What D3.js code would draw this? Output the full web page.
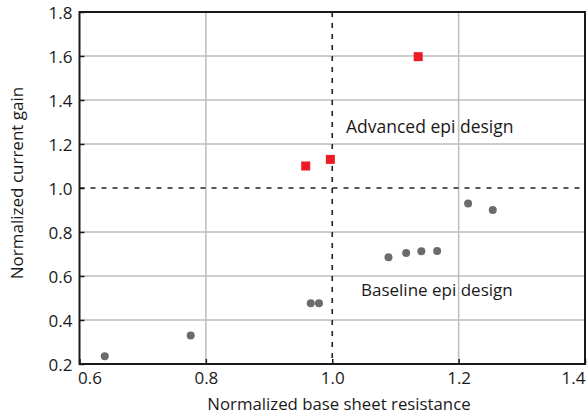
<!DOCTYPE html>
<html>
<head>
<meta charset="utf-8">
<script src="https://cdn.jsdelivr.net/npm/d3@7"></script>
<style>
  body { margin: 0; background: #fff; }
  text { font-family: "Open Sans", Lato, sans-serif; fill: #1a1a1a; }
</style>
</head>
<body>
<div id="chart"></div>
<script>
// ---- data
var baselineX = [0.64, 0.776, 0.966, 0.979, 1.089, 1.117, 1.141, 1.166, 1.215, 1.254];
var baselineY = [0.235, 0.33, 0.476, 0.476, 0.685, 0.705, 0.712, 0.714, 0.929, 0.90];
var advancedX = [0.958, 0.997, 1.136];
var advancedY = [1.10, 1.13, 1.597];
var xTicks = [0.6, 0.8, 1.0, 1.2, 1.4];
var yTicks = [0.2, 0.4, 0.6, 0.8, 1.0, 1.2, 1.4, 1.6, 1.8];

var svgWidth = 587, svgHeight = 416;
// plot box edges (don't call one "top", window.top is taken)
var plotLeft = 79.5, plotRight = 585, plotTop = 12, plotBottom = 364;

var svg = d3.select("#chart").append("svg")
  .attr("width", svgWidth)
  .attr("height", svgHeight);

var x = d3.scaleLinear().domain([0.6, 1.4]).range([plotLeft, plotRight]);
var y = d3.scaleLinear().domain([0.2, 1.8]).range([plotBottom, plotTop]);

// gridlines (1.0 is drawn dashed further down)
svg.append("g").selectAll("line")
  .data(xTicks.filter(d => d > 0.6 && d < 1.4 && d != 1.0))
  .enter().append("line")
  .attr("x1", d => x(d)).attr("x2", d => x(d))
  .attr("y1", plotTop).attr("y2", plotBottom)
  .attr("stroke", "#bcbcbc").attr("stroke-width", 1.5);

svg.append("g").selectAll("line")
  .data(yTicks.filter(d => d > 0.2 && d < 1.8 && d != 1.0))
  .enter().append("line")
  .attr("x1", plotLeft).attr("x2", plotRight)
  .attr("y1", d => y(d)).attr("y2", d => y(d))
  .attr("stroke", "#bcbcbc").attr("stroke-width", 1.5);

// dashed reference lines at 1.0
svg.append("line")
  .attr("x1", x(1.0)).attr("x2", x(1.0))
  .attr("y1", plotTop).attr("y2", plotBottom)
  .attr("stroke", "#222").attr("stroke-width", 1.6)
  .attr("stroke-dasharray", "5,6");
svg.append("line")
  .attr("x1", plotLeft).attr("x2", plotRight)
  .attr("y1", y(1.0)).attr("y2", y(1.0))
  .attr("stroke", "#222").attr("stroke-width", 1.6)
  .attr("stroke-dasharray", "5,6");

// axes with small inward ticks
var xAxis = svg.append("g")
  .attr("transform", `translate(0, ${plotBottom})`)
  .call(d3.axisBottom(x).tickValues(xTicks).tickSize(-5).tickPadding(8)
    .tickFormat(d3.format(".1f")));
var yAxis = svg.append("g")
  .attr("transform", `translate(${plotLeft}, 0)`)
  .call(d3.axisLeft(y).tickValues(yTicks).tickSize(-5).tickPadding(7)
    .tickFormat(d3.format(".1f")));

[xAxis, yAxis].forEach(function(a){
  a.select(".domain").remove();
  a.selectAll("line").attr("stroke", "#1a1a1a").attr("stroke-width", 1.5);
  a.selectAll("text").style("font-size", "17px").attr("fill", "#1a1a1a")
    .style("font-family", "'Open Sans', Lato, sans-serif");
});
yAxis.selectAll("text").attr("dy", "0.36em");
// keep the end labels inside the picture
xAxis.selectAll("text").filter(d => d == 0.6).attr("dx", 10);
xAxis.selectAll("text").filter(d => d == 1.4).attr("dx", -12);

// frame
svg.append("rect")
  .attr("x", plotLeft).attr("y", plotTop)
  .attr("width", plotRight - plotLeft).attr("height", plotBottom - plotTop)
  .attr("fill", "none").attr("stroke", "#1a1a1a").attr("stroke-width", 2);

// baseline points
svg.append("g").selectAll("circle")
  .data(baselineX)
  .enter().append("circle")
  .attr("cx", d => x(d))
  .attr("cy", (d, i) => y(baselineY[i]))
  .attr("r", 4)
  .attr("fill", "#6b6b6d");

// advanced points
var sq = 9;
svg.append("g").selectAll("rect")
  .data(advancedX)
  .enter().append("rect")
  .attr("x", d => x(d) - sq / 2)
  .attr("y", (d, i) => y(advancedY[i]) - sq / 2)
  .attr("width", sq).attr("height", sq)
  .attr("fill", "#ed1c24");

// annotations
svg.append("text")
  .attr("x", 346).attr("y", 133)
  .style("font-size", "17.5px")
  .text("Advanced epi design");
svg.append("text")
  .attr("x", 361).attr("y", 296)
  .style("font-size", "17px")
  .text("Baseline epi design");

// axis titles
svg.append("text")
  .attr("x", 339).attr("y", 410)
  .attr("text-anchor", "middle")
  .style("font-size", "16.8px")
  .text("Normalized base sheet resistance");
svg.append("text")
  .attr("transform", `translate(23, 183) rotate(-90)`)
  .attr("text-anchor", "middle")
  .style("font-size", "17px")
  .text("Normalized current gain");
</script>
</body>
</html>
